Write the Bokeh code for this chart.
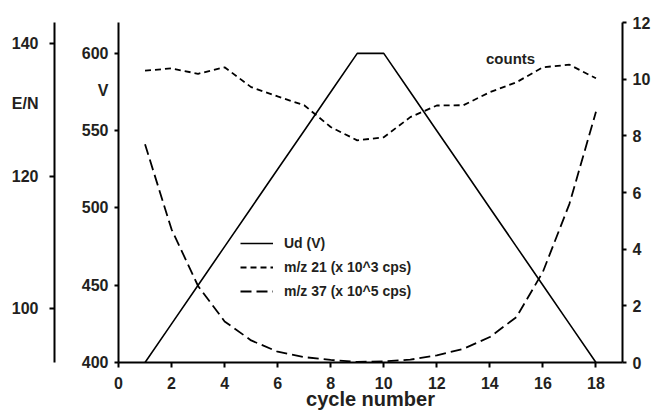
from bokeh.plotting import figure
from bokeh.models import LinearAxis, Range1d, FixedTicker, Legend, LegendItem
from bokeh.core.properties import value
from bokeh.embed import file_html
from bokeh.resources import INLINE

# ---- data ----
cycle = [1, 2, 3, 4, 5, 6, 7, 8, 9, 10, 11, 12, 13, 14, 15, 16, 17, 18]
ud_v = [400, 425, 450, 475, 500, 525, 550, 575, 600, 600, 575, 550, 525, 500, 475, 450, 425, 400]
mz21 = [10.3, 10.38, 10.19, 10.42, 9.72, 9.39, 9.08, 8.31, 7.84, 7.95, 8.66, 9.07, 9.08, 9.54, 9.89, 10.42, 10.51, 10.03]
mz37 = [7.7, 4.7, 2.7, 1.45, 0.78, 0.38, 0.19, 0.09, 0.02, 0.04, 0.1, 0.25, 0.48, 0.9, 1.6, 3.2, 5.6, 8.85]

x_ticks = [0, 2, 4, 6, 8, 10, 12, 14, 16, 18]
v_ticks = [400, 450, 500, 550, 600]
en_ticks = [100, 120, 140]
count_ticks = [0, 2, 4, 6, 8, 10, 12]

legend_labels = ["Ud (V)", "m/z 21 (x 10^3 cps)", "m/z 37 (x 10^5 cps)"]
v_title, v_title_at = "V", 576          # unit label on the V axis
en_title, en_title_at = "E/N", 131      # unit label on the E/N axis
counts_title = ["counts"]
counts_x = [14.78]
counts_y = [596.6]

FONT = "Liberation Sans"
INK = "#231f20"

p = figure(width=657, height=416, x_range=Range1d(0, 19), y_range=Range1d(400, 620),
           output_backend="svg", toolbar_location=None,
           min_border_left=118, min_border_right=35, min_border_top=22, min_border_bottom=54)
p.extra_y_ranges = {"counts": Range1d(0, 12), "en": Range1d(91.9, 143.2)}
p.xgrid.visible = False
p.ygrid.visible = False
p.outline_line_color = None
p.background_fill_color = "white"
p.border_fill_color = "white"


def style(ax, size="16px", out=4, standoff=5):
    ax.axis_line_width = 2
    ax.axis_line_color = "black"
    ax.major_tick_line_width = 2
    ax.major_tick_line_color = "black"
    ax.major_tick_in = 0
    ax.major_tick_out = out
    ax.minor_tick_line_color = None
    ax.major_label_text_font = FONT
    ax.major_label_text_font_style = "bold"
    ax.major_label_text_font_size = size
    ax.major_label_text_color = INK
    ax.major_label_standoff = standoff


def style_titled(ax, ticks, title_at, title, out):
    # labelled positions are the major ticks (marks hidden); visible marks are minor ticks
    ax.ticker = FixedTicker(ticks=sorted(ticks + [title_at]), minor_ticks=ticks)
    ax.major_label_overrides = {title_at: title}
    ax.major_tick_line_color = None
    ax.minor_tick_line_color = "black"
    ax.minor_tick_line_width = 2
    ax.minor_tick_in = 0
    ax.minor_tick_out = out


# x axis
xa = p.xaxis[0]
style(xa, out=5, standoff=9)
xa.ticker = FixedTicker(ticks=x_ticks)
xa.axis_label = "cycle number"
xa.axis_label_text_font = FONT
xa.axis_label_text_font_style = "bold"
xa.axis_label_text_font_size = "20px"
xa.axis_label_text_color = INK
xa.axis_label_standoff = -4

# left V axis
va = p.yaxis[0]
style(va, out=4, standoff=6)
style_titled(va, v_ticks, v_title_at, v_title, 4)
va.axis_label = " "
va.axis_label_text_font_size = "16px"
va.axis_label_standoff = 4

# E/N axis (outer left)
ea = LinearAxis(y_range_name="en")
style(ea, out=5, standoff=11)
style_titled(ea, en_ticks, en_title_at, en_title, 5)
p.add_layout(ea, "left")

# right counts axis
ca = LinearAxis(y_range_name="counts")
style(ca, out=4, standoff=6)
ca.ticker = FixedTicker(ticks=count_ticks)
p.add_layout(ca, "right")

r_ud = p.line(cycle, ud_v, line_color="black", line_width=1.6)
r21 = p.line(cycle, mz21, y_range_name="counts", line_color="black", line_width=1.8, line_dash="6 4")
r37 = p.line(cycle, mz37, y_range_name="counts", line_color="black", line_width=1.8, line_dash="11 5")

p.text(x=counts_x, y=counts_y, text=counts_title, text_align="center", text_baseline="alphabetic",
       text_font=value(FONT), text_font_style="bold", text_font_size="15px", text_color=INK)

legend = Legend(items=[LegendItem(label=legend_labels[0], renderers=[r_ud]),
                       LegendItem(label=legend_labels[1], renderers=[r21]),
                       LegendItem(label=legend_labels[2], renderers=[r37])],
                location=(122, 63), padding=0, margin=0, spacing=8,
                glyph_width=33, glyph_height=16, label_height=16, label_standoff=11,
                border_line_color=None, background_fill_alpha=0,
                label_text_font=FONT, label_text_font_style="bold",
                label_text_font_size="14px", label_text_color=INK)
p.add_layout(legend, "center")

open("out.html", "w").write(file_html(p, INLINE))
